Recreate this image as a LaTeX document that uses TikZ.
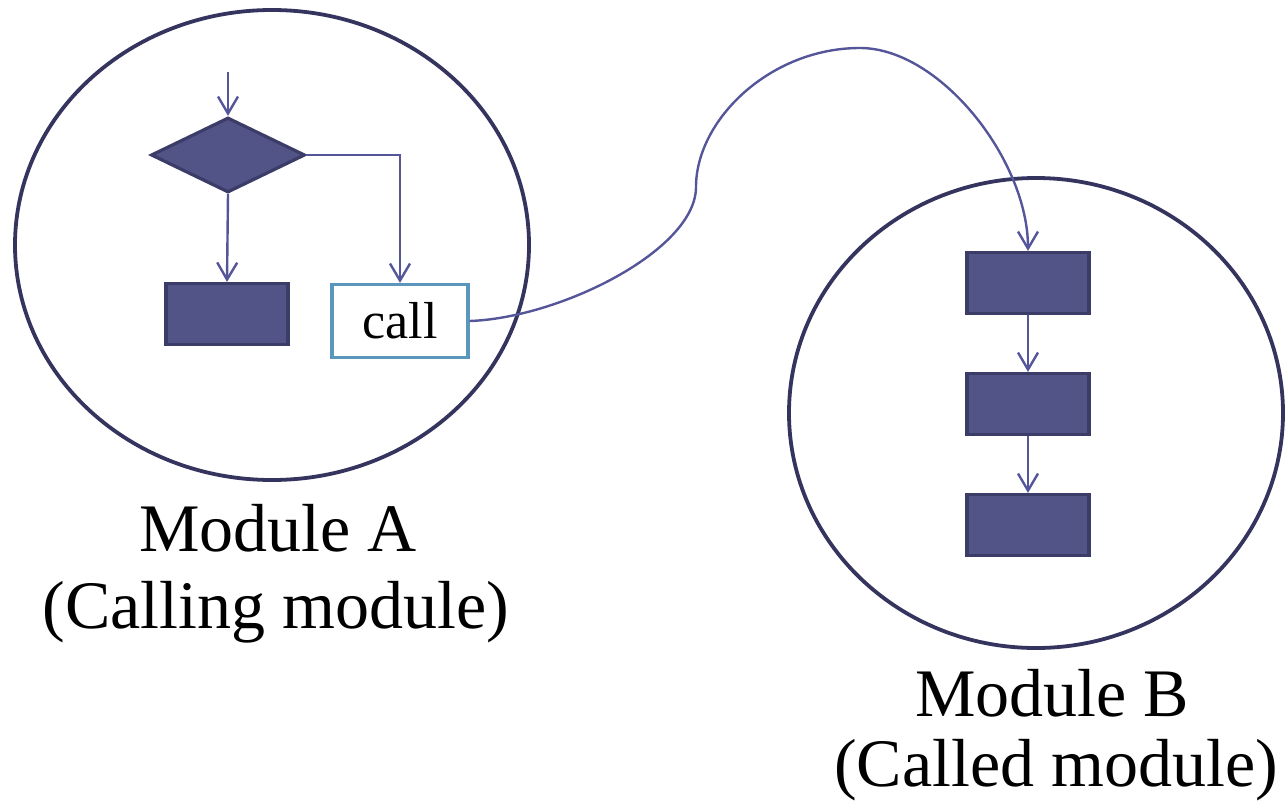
\documentclass[tikz,border=0pt]{standalone}
\usepackage{fontspec}
\setmainfont{Liberation Serif}
\usetikzlibrary{shapes.geometric,arrows.meta}
\definecolor{modline}{HTML}{34345E}
\definecolor{boxfill}{HTML}{525386}
\definecolor{boxline}{HTML}{3C3C68}
\definecolor{flow}{HTML}{55569A}
\definecolor{callline}{HTML}{5B97BC}
\tikzset{
  module/.style={draw=modline, line width=3.8pt},
  stepbox/.style={rectangle, fill=boxfill, draw=boxline, line width=3.2pt,
    minimum width=122pt, minimum height=61pt, inner sep=0pt},
  decision/.style={diamond, fill=boxfill, draw=boxline, line width=3.2pt,
    minimum width=154pt, minimum height=75pt, aspect=2.05, inner sep=0pt},
  callbox/.style={rectangle, fill=white, draw=callline, line width=3.2pt,
    minimum width=136pt, minimum height=73pt, inner sep=0pt,
    font=\fontsize{52}{58}\selectfont},
  flowline/.style={draw=flow, line width=2.4pt,
    -{Straight Barb[length=17pt,width=20pt,line width=2.4pt]}},
  caption/.style={anchor=base, inner sep=0pt, font=\fontsize{68}{74}\selectfont},
}
\begin{document}
\begin{tikzpicture}[x=1pt,y=-1pt]
  \useasboundingbox (0,0) rectangle (1285,803);

  % module outlines
  \draw[module] (272,245) ellipse [x radius=257, y radius=235];
  \draw[module] (1036,413) ellipse [x radius=247, y radius=235];

  % calling module flow
  \coordinate (entry) at (228,72);
  \node[decision] (dec) at (228,155) {};
  \node[stepbox] (a1) at (227,314) {};
  \node[callbox] (call) at (400,321) {call};
  \draw[flowline] (entry) -- (dec.north);
  \draw[flowline] (dec.south) -- (a1.north);
  \draw[flowline] (dec.east) -| (call.north);

  % called module flow
  \node[stepbox] (b1) at (1028,283) {};
  \node[stepbox] (b2) at (1028,404) {};
  \node[stepbox] (b3) at (1028,525) {};
  \draw[flowline] (b1.south) -- (b2.north);
  \draw[flowline] (b2.south) -- (b3.north);

  % call transfer
  \coordinate (bend) at (696,187);
  \coordinate (crest) at (860,48);
  \draw[flowline] (call.east) .. controls (560,318) and (696,250) .. (bend)
    .. controls (696,120) and (770,48) .. (crest)
    .. controls (940,48) and (1028,160) .. (b1.north);

  % captions
  \node[caption] (capA1) at (278,551) {Module A};
  \node[caption] (capA2) at (276,628) {(Calling module)};
  \node[caption] (capB1) at (1052,716) {Module B};
  \node[caption] (capB2) at (1056,786) {(Called module)};
\end{tikzpicture}
\end{document}
